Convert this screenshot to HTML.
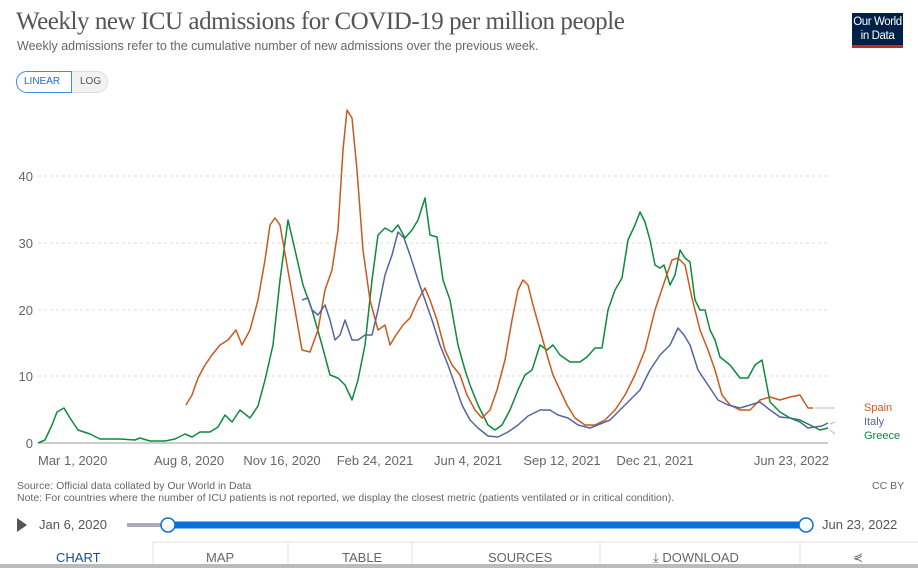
<!DOCTYPE html>
<html><head><meta charset="utf-8"><style>
body{margin:0;width:918px;height:568px;overflow:hidden;background:#fff;font-family:"Liberation Sans",sans-serif;position:relative}
.t{position:absolute;white-space:nowrap}
</style></head><body>
<div class="t" style="left:16px;top:8px;font-family:'Liberation Serif',serif;font-size:25px;color:#555;letter-spacing:-0.45px">Weekly new ICU admissions for COVID-19 per million people</div>
<div class="t" style="left:17px;top:39px;font-size:12.5px;color:#666">Weekly admissions refer to the cumulative number of new admissions over the previous week.</div>
<div style="position:absolute;left:852px;top:13px;width:51px;height:32px;background:#002147"></div>
<div style="position:absolute;left:852px;top:45px;width:51px;height:3px;background:#ce261e"></div>
<div class="t" style="left:852px;top:15px;width:51px;text-align:center;color:#fff;font-size:11.5px;line-height:14px;letter-spacing:-0.4px">Our World<br>in Data</div>
<div style="position:absolute;left:16px;top:71px;width:90px;height:20px;border:1px solid #ddd;border-radius:11px;background:#f2f2f2"></div>
<div style="position:absolute;left:16px;top:71px;width:54px;height:20px;border:1px solid #3b8ee8;border-radius:11px 0 0 11px;background:#fff"></div>
<div class="t" style="left:24px;top:76px;font-size:10px;color:#1a6fd6">LINEAR</div>
<div class="t" style="left:80px;top:76px;font-size:10px;color:#555">LOG</div>
<svg style="position:absolute;left:0;top:0" width="918" height="568">
<g stroke="#ddd" stroke-dasharray="3,3" stroke-width="1">
<line x1="38" x2="828" y1="176" y2="176"/><line x1="38" x2="828" y1="243" y2="243"/><line x1="38" x2="828" y1="310" y2="310"/><line x1="38" x2="828" y1="376" y2="376"/></g>
<line x1="38" x2="828" y1="443" y2="443" stroke="#999"/>
<g font-size="13" fill="#666" font-family="Liberation Sans">
<text x="33" y="181" text-anchor="end">40</text><text x="33" y="248" text-anchor="end">30</text><text x="33" y="315" text-anchor="end">20</text><text x="33" y="381" text-anchor="end">10</text><text x="33" y="448" text-anchor="end">0</text>
<text x="38" y="465">Mar 1, 2020</text><text x="189" y="465" text-anchor="middle">Aug 8, 2020</text><text x="282" y="465" text-anchor="middle">Nov 16, 2020</text><text x="375" y="465" text-anchor="middle">Feb 24, 2021</text><text x="468" y="465" text-anchor="middle">Jun 4, 2021</text><text x="562" y="465" text-anchor="middle">Sep 12, 2021</text><text x="655" y="465" text-anchor="middle">Dec 21, 2021</text><text x="829" y="465" text-anchor="end">Jun 23, 2022</text></g>
<g fill="none" stroke-width="1.5" stroke-linejoin="round">
<polyline stroke="#0d8a3d" points="38,443 45,440 52,425 57,412 64,408 70,418 78,430 90,434 100,439 120,439 135,440 140,438 150,441 165,441 175,439 185,434 192,437 200,432 210,432 218,427 225,415 232,422 240,410 250,418 258,406 265,380 273,345 280,280 288,220 295,250 303,285 312,310 322,345 330,375 338,378 345,385 352,400 358,380 365,345 372,280 378,235 385,228 392,232 398,225 405,238 412,230 418,220 425,198 430,235 437,237 443,280 450,300 458,345 465,370 470,385 478,405 488,425 495,430 502,425 510,410 518,390 525,375 532,370 540,345 547,350 553,345 560,355 570,362 580,362 587,357 595,348 602,348 608,310 615,290 622,278 628,240 635,225 640,212 645,222 650,240 655,265 660,268 664,265 670,285 675,275 680,250 685,258 690,262 695,300 700,310 705,310 710,330 715,340 720,357 730,365 740,378 748,378 755,365 762,360 770,402 780,412 790,418 800,420 810,425 820,430 828,428"/>
<polyline stroke="#c9591d" points="186,405 192,395 198,378 205,365 212,355 220,345 228,340 236,330 242,345 250,330 258,300 265,260 270,225 275,218 280,225 287,265 295,310 302,350 310,352 318,330 325,290 332,270 338,230 343,150 347,110 352,118 357,170 363,250 370,300 378,330 385,325 390,345 396,335 403,325 410,318 418,300 425,288 430,300 437,320 445,350 452,365 460,375 467,395 475,410 482,418 490,410 497,390 505,360 512,320 518,290 523,280 528,285 533,305 540,330 547,355 553,375 560,390 567,405 575,418 585,425 595,425 605,420 615,410 625,395 635,375 645,350 655,310 665,280 672,260 678,258 685,265 692,298 700,330 708,350 715,370 722,395 730,405 740,410 750,410 760,400 770,397 780,400 790,397 800,395 808,408 813,408"/>
<polyline stroke="#5365a0" points="302,300 308,298 312,310 318,315 325,305 330,320 335,340 340,335 345,320 352,340 358,340 365,335 372,335 378,310 385,275 392,255 398,232 404,238 410,255 418,280 425,300 432,320 440,345 448,365 455,385 462,405 470,420 478,428 488,436 498,437 508,432 518,425 528,416 540,410 550,410 558,415 568,418 578,425 590,428 600,424 610,420 620,410 630,400 640,390 650,370 660,355 670,345 678,328 684,335 690,345 698,370 708,385 718,400 728,405 740,408 750,405 760,402 770,410 780,417 790,418 800,422 808,428 815,427 822,426 828,423"/>
</g>
<g stroke="#bbb" fill="none"><polyline points="815,408 835,408"/><polyline points="830,424 835,422"/><polyline points="830,430 835,434"/></g>
<g font-size="11" font-family="Liberation Sans"><text x="864" y="411" fill="#c9591d">Spain</text><text x="864" y="425" fill="#5365a0">Italy</text><text x="864" y="439" fill="#0d8a3d">Greece</text></g>
<line x1="127" x2="168" y1="525" y2="525" stroke="#aab" stroke-width="4"/>
<line x1="168" x2="806" y1="525" y2="525" stroke="#0b6fdb" stroke-width="7"/>
<circle cx="168" cy="525" r="7" fill="#fff" stroke="#0b6fdb" stroke-width="1.5"/>
<circle cx="806" cy="525" r="7" fill="#fff" stroke="#0b6fdb" stroke-width="1.5"/>
<polygon points="17,518 17,532 27,525" fill="#555"/>
<g stroke="#e0e0e0"><line x1="153" x2="918" y1="542" y2="542"/><line x1="153" x2="153" y1="542" y2="568"/><line x1="288" x2="288" y1="542" y2="568"/><line x1="412" x2="412" y1="542" y2="568"/><line x1="600" x2="600" y1="542" y2="568"/><line x1="800" x2="800" y1="542" y2="568"/></g>
<rect x="0" y="564" width="918" height="4" fill="#bbb"/>
</svg>
<div class="t" style="left:17px;top:480px;font-size:10.5px;color:#666">Source: Official data collated by Our World in Data</div>
<div class="t" style="left:872px;top:480px;font-size:10.5px;color:#666">CC BY</div>
<div class="t" style="left:17px;top:492px;font-size:10.5px;color:#666">Note: For countries where the number of ICU patients is not reported, we display the closest metric (patients ventilated or in critical condition).</div>
<div class="t" style="left:39px;top:517px;font-size:13px;color:#555">Jan 6, 2020</div>
<div class="t" style="left:822px;top:517px;font-size:13px;color:#555">Jun 23, 2022</div>
<div class="t" style="left:56px;top:550px;font-size:13px;color:#1a4f8a">CHART</div>
<div class="t" style="left:206px;top:550px;font-size:13px;color:#666">MAP</div>
<div class="t" style="left:342px;top:550px;font-size:13px;color:#666">TABLE</div>
<div class="t" style="left:488px;top:550px;font-size:13px;color:#666">SOURCES</div>
<div class="t" style="left:653px;top:550px;font-size:13px;color:#666">⤓ DOWNLOAD</div>
<div class="t" style="left:853px;top:550px;font-size:12px;color:#666">⋞</div>
</body></html>
